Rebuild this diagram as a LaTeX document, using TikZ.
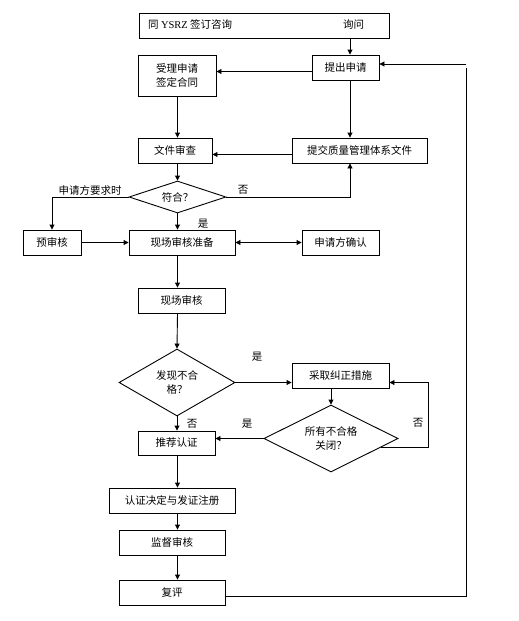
\documentclass[tikz,border=0pt]{standalone}
\usepackage{fontspec}
\setmainfont{Noto Sans CJK SC}
\newfontfamily\latinserif{Liberation Serif}
\usetikzlibrary{shapes.geometric,arrows.meta}
\begin{document}
\begin{tikzpicture}[x=1pt,y=-1pt,
  every node/.style={font=\fontsize{10.5}{14}\selectfont},
  box/.style={draw,line width=0.9pt,inner sep=0pt,align=center},
  dia/.style={draw,line width=0.9pt,diamond,shape aspect=2,inner sep=0pt,align=center},
  lab/.style={inner sep=0pt},
  arr/.style={line width=0.9pt,-{Triangle[length=5pt,width=5pt]}},
  darr/.style={line width=0.9pt,{Triangle[length=5pt,width=5pt]}-{Triangle[length=5pt,width=5pt]}},
  ln/.style={line width=0.9pt}]
\useasboundingbox[fill=white] (0,0) rectangle (519,621);
% boxes
\node[box,minimum width=250pt,minimum height=25pt] (top) at (264,25.5) {};
\node[lab,anchor=west] (toptxt) at (148,25) {同 {\latinserif YSRZ} 签订咨询};
\node[lab,anchor=west] (xunwen) at (343,25) {询问};
\node[box,minimum width=78pt,minimum height=41pt] (shouli) at (177,75.5) {受理申请\\签定合同};
\node[box,minimum width=67pt,minimum height=25pt] (tichu) at (345.5,67.5) {提出申请};
\node[box,minimum width=74pt,minimum height=25pt] (wenjian) at (175,150.5) {文件审查};
\node[box,minimum width=135pt,minimum height=25pt] (tijiao) at (359.5,150.5) {提交质量管理体系文件};
\node[dia,minimum width=97pt,minimum height=32pt] (d1) at (177.5,197) {符合？};
\node[box,minimum width=58pt,minimum height=25pt] (yushen) at (52,242.5) {预审核};
\node[box,minimum width=106pt,minimum height=25pt] (zhunbei) at (182,242.5) {现场审核准备};
\node[box,minimum width=77pt,minimum height=25pt] (queren) at (340.5,242.5) {申请方确认};
\node[box,minimum width=87pt,minimum height=25pt] (xianchang) at (181.5,300.5) {现场审核};
\node[dia,minimum width=116pt,minimum height=67pt] (dfx) at (177,382.5) {发现不合\\格？};
\node[box,minimum width=97pt,minimum height=25pt] (caiqu) at (340.5,375.5) {采取纠正措施};
\node[dia,minimum width=134pt,minimum height=67pt] (d2) at (331,438.5) {所有不合格\\关闭？};
\node[box,minimum width=77pt,minimum height=24pt] (tuijian) at (176.5,443) {推荐认证};
\node[box,minimum width=126pt,minimum height=25pt] (jueding) at (172,500.5) {认证决定与发证注册};
\node[box,minimum width=106pt,minimum height=25pt] (jiandu) at (172,542.5) {监督审核};
\node[box,minimum width=106pt,minimum height=25pt] (fuping) at (172,592.5) {复评};
% helper coordinates
\coordinate (vx) at (350,0);
\coordinate (mx) at (177.5,0);
\coordinate (rx) at (466,0);
\coordinate (lx) at (428,0);
% labels
\node[lab] (l1) at (90,190) {申请方要求时};
\node[lab] (l2) at (243,190) {否};
\node[lab] (l3) at (203,224) {是};
\node[lab] (l4) at (257,357) {是};
\node[lab] (l5) at (192,424) {否};
\node[lab] (l6) at (247,424) {是};
\node[lab] (l7) at (418,423) {否};
% connectors
\draw[arr] (vx |- top.south) -- (vx |- tichu.north);
\draw[arr] (tichu.west |- shouli.center) ++(0,-4) coordinate (t1) -- (t1 -| shouli.east);
\draw[arr] (mx |- shouli.south) -- (mx |- wenjian.north);
\draw[arr] (vx |- tichu.south) -- (vx |- tijiao.north);
\draw[arr] (tijiao.west |- wenjian.center) ++(0,4) coordinate (t2) -- (t2 -| wenjian.east);
\draw[arr] (mx |- wenjian.south) -- (d1.north);
\draw[arr] (d1.west) -| (yushen.north);
\draw[arr] (d1.east) -| (vx |- tijiao.south);
\draw[arr] (d1.south) -- (mx |- zhunbei.north);
\draw[arr] (yushen.east) -- (zhunbei.west);
\draw[darr] (zhunbei.east) -- (queren.west);
\draw[arr] (mx |- zhunbei.south) -- (mx |- xianchang.north);
\draw[arr] (mx |- xianchang.south) -- (dfx.north);
\draw[arr] (dfx.east) -- (dfx.east -| caiqu.west);
\draw[arr] (d2.north |- caiqu.south) -- (d2.north);
\draw[arr] (d2.west) -- (d2.west -| tuijian.east);
\draw[arr] (d2.-10) -- (d2.-10 -| lx) -- (lx |- dfx.east) -- (dfx.east -| caiqu.east);
\draw[arr] (dfx.south) -- (dfx.south |- tuijian.north);
\draw[arr] (mx |- tuijian.south) -- (mx |- jueding.north);
\draw[arr] (mx |- jueding.south) -- (mx |- jiandu.north);
\draw[arr] (mx |- jiandu.south) -- (mx |- fuping.north);
\draw[ln] (fuping.east) ++(0,3.5) coordinate (t3) -- (t3 -| rx) -- (rx |- tichu.east) coordinate (t4);
\draw[arr] (t4) ++(0,-3.5) coordinate (t5) -- (t5 -| tichu.east);
\end{tikzpicture}
\end{document}
